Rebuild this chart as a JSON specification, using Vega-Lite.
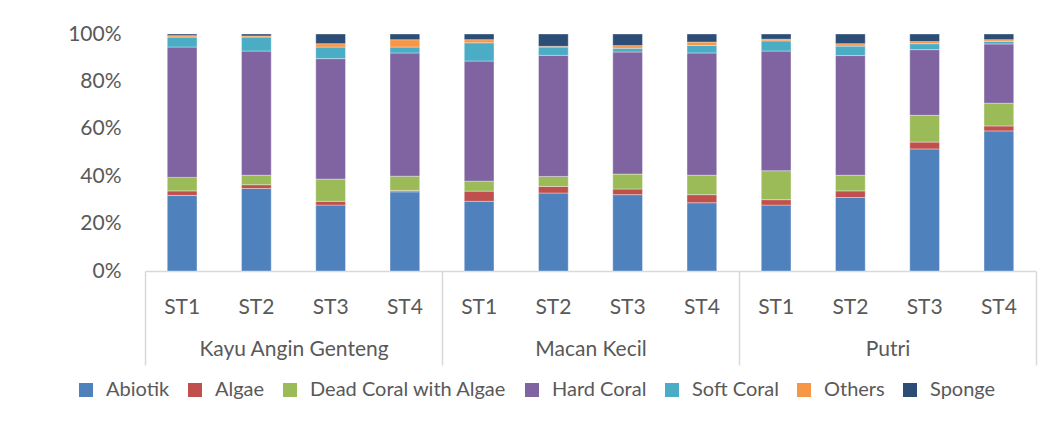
{
  "$schema": "https://vega.github.io/schema/vega-lite/v6.json",
  "width": 891,
  "height": 237,
  "autosize": {"type": "none"},
  "padding": {"left": 145, "top": 34, "right": 16, "bottom": 150},
  "background": "white",
  "config": {
    "view": {"stroke": null},
    "font": "Lato",
    "axis": {"labelFont": "Lato", "labelColor": "#595959", "grid": false, "labelLimit": 0},
    "legend": {"labelFont": "Lato", "labelLimit": 0}
  },
  "datasets": {
    "cats": [
      {"category": "Abiotik", "rank": 1},
      {"category": "Algae", "rank": 2},
      {"category": "Dead Coral with Algae", "rank": 3},
      {"category": "Hard Coral", "rank": 4},
      {"category": "Soft Coral", "rank": 5},
      {"category": "Others", "rank": 6},
      {"category": "Sponge", "rank": 7}
    ]
  },
  "data": {
    "values": [
      {"group": "Kayu Angin Genteng", "station": "ST1", "bar": "Kayu Angin Genteng|ST1", "Abiotik": 31.9, "Algae": 1.9, "Dead Coral with Algae": 5.7, "Hard Coral": 55.0, "Soft Coral": 4.2, "Others": 0.6, "Sponge": 0.7},
      {"group": "Kayu Angin Genteng", "station": "ST2", "bar": "Kayu Angin Genteng|ST2", "Abiotik": 34.8, "Algae": 1.6, "Dead Coral with Algae": 4.0, "Hard Coral": 52.4, "Soft Coral": 5.9, "Others": 0.5, "Sponge": 0.8},
      {"group": "Kayu Angin Genteng", "station": "ST3", "bar": "Kayu Angin Genteng|ST3", "Abiotik": 27.8, "Algae": 1.6, "Dead Coral with Algae": 9.4, "Hard Coral": 50.8, "Soft Coral": 4.9, "Others": 1.4, "Sponge": 4.1},
      {"group": "Kayu Angin Genteng", "station": "ST4", "bar": "Kayu Angin Genteng|ST4", "Abiotik": 33.4, "Algae": 0.6, "Dead Coral with Algae": 6.0, "Hard Coral": 52.0, "Soft Coral": 2.5, "Others": 3.1, "Sponge": 2.4},
      {"group": "Macan Kecil", "station": "ST1", "bar": "Macan Kecil|ST1", "Abiotik": 29.4, "Algae": 4.3, "Dead Coral with Algae": 4.2, "Hard Coral": 50.7, "Soft Coral": 7.7, "Others": 1.3, "Sponge": 2.4},
      {"group": "Macan Kecil", "station": "ST2", "bar": "Macan Kecil|ST2", "Abiotik": 32.9, "Algae": 2.8, "Dead Coral with Algae": 4.2, "Hard Coral": 51.1, "Soft Coral": 3.5, "Others": 0.3, "Sponge": 5.2},
      {"group": "Macan Kecil", "station": "ST3", "bar": "Macan Kecil|ST3", "Abiotik": 32.2, "Algae": 2.4, "Dead Coral with Algae": 6.3, "Hard Coral": 51.5, "Soft Coral": 1.6, "Others": 1.1, "Sponge": 4.9},
      {"group": "Macan Kecil", "station": "ST4", "bar": "Macan Kecil|ST4", "Abiotik": 28.8, "Algae": 3.4, "Dead Coral with Algae": 8.2, "Hard Coral": 51.6, "Soft Coral": 3.2, "Others": 1.4, "Sponge": 3.4},
      {"group": "Putri", "station": "ST1", "bar": "Putri|ST1", "Abiotik": 27.8, "Algae": 2.3, "Dead Coral with Algae": 12.2, "Hard Coral": 50.5, "Soft Coral": 4.3, "Others": 0.7, "Sponge": 2.2},
      {"group": "Putri", "station": "ST2", "bar": "Putri|ST2", "Abiotik": 31.0, "Algae": 2.8, "Dead Coral with Algae": 6.6, "Hard Coral": 50.5, "Soft Coral": 4.0, "Others": 1.0, "Sponge": 4.1},
      {"group": "Putri", "station": "ST3", "bar": "Putri|ST3", "Abiotik": 51.5, "Algae": 2.9, "Dead Coral with Algae": 11.3, "Hard Coral": 27.7, "Soft Coral": 2.5, "Others": 0.9, "Sponge": 3.2},
      {"group": "Putri", "station": "ST4", "bar": "Putri|ST4", "Abiotik": 59.1, "Algae": 2.1, "Dead Coral with Algae": 9.6, "Hard Coral": 25.0, "Soft Coral": 1.1, "Others": 0.7, "Sponge": 2.4}
    ]
  },
  "layer": [
    {
      "transform": [
        {"fold": ["Abiotik", "Algae", "Dead Coral with Algae", "Hard Coral", "Soft Coral", "Others", "Sponge"], "as": ["category", "value"]},
        {"lookup": "category", "from": {"data": {"name": "cats"}, "key": "category", "fields": ["rank"]}}
      ],
      "mark": {"type": "bar", "stroke": "#ffffff", "strokeOpacity": 0.35, "strokeWidth": 1},
      "encoding": {
        "x": {
          "field": "bar", "type": "nominal", "title": null,
          "scale": {"paddingInner": 0.6, "paddingOuter": 0.3},
          "axis": {
            "orient": "bottom", "domain": false, "ticks": false,
            "labelExpr": "split(datum.label, '|')[1]",
            "labelAngle": 0, "labelBaseline": "middle", "labelPadding": 36,
            "labelFontSize": 21, "labelOverlap": false
          }
        },
        "y": {
          "field": "value", "type": "quantitative", "stack": "normalize", "title": null,
          "scale": {"domain": [0, 1]},
          "axis": {
            "values": [0, 0.2, 0.4, 0.6, 0.8, 1], "format": ".0%",
            "domain": false, "ticks": false, "labelPadding": 24,
            "labelFontSize": 21
          }
        },
        "order": {"field": "rank", "type": "quantitative", "sort": "ascending"},
        "color": {
          "field": "category", "type": "nominal",
          "scale": {
            "domain": ["Abiotik", "Algae", "Dead Coral with Algae", "Hard Coral", "Soft Coral", "Others", "Sponge"],
            "range": ["#4F81BD", "#C0504D", "#9BBB59", "#8064A2", "#4BACC6", "#F79646", "#2C4D75"]
          },
          "legend": {
            "title": null, "orient": "none", "direction": "horizontal", "columns": 7,
            "legendX": -69, "legendY": 346,
            "symbolType": "square", "symbolSize": 196, "symbolStrokeWidth": 0,
            "labelFontSize": 20, "labelColor": "#595959", "labelOffset": 10,
            "columnPadding": 15
          }
        }
      }
    },
    {
      "mark": {"type": "rule", "opacity": 0},
      "encoding": {
        "x": {
          "field": "group", "type": "nominal", "title": null,
          "scale": {"paddingInner": 0, "paddingOuter": 0},
          "axis": {
            "orient": "bottom", "domain": true, "domainColor": "#D9D9D9", "domainWidth": 1.5,
            "ticks": true, "tickBand": "extent", "tickSize": 94, "tickColor": "#D9D9D9", "tickWidth": 1.5,
            "labelAngle": 0, "labelBaseline": "middle", "labelPadding": -16,
            "labelFontSize": 21, "labelColor": "#595959", "labelOverlap": false
          }
        }
      }
    }
  ],
  "resolve": {"scale": {"x": "independent"}, "axis": {"x": "independent"}}
}
